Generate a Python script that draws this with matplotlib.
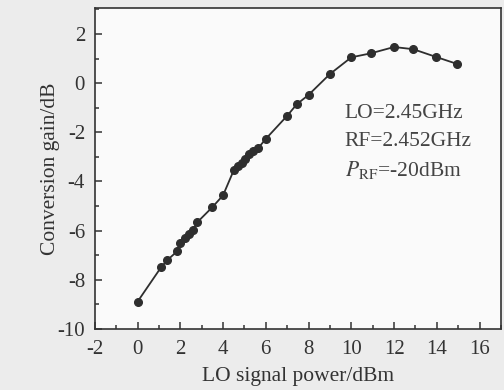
import numpy as np
import matplotlib
matplotlib.use('Agg')
import matplotlib.pyplot as plt
from matplotlib.ticker import MultipleLocator

plt.rcParams['font.family'] = 'Liberation Serif'
plt.rcParams['mathtext.fontset'] = 'stix'
plt.rcParams['axes.unicode_minus'] = False

# LO power (dBm) and conversion gain (dB)
lo_power = [0.0, 1.1, 1.4, 1.85, 2.0, 2.2, 2.4, 2.6, 2.8, 3.5, 4.0,
            4.5, 4.7, 4.9, 5.05, 5.2, 5.4, 5.65, 6.0, 7.0, 7.45, 8.0,
            9.0, 10.0, 10.9, 12.0, 12.9, 13.95, 14.95]
gain = [-8.9, -7.5, -7.2, -6.85, -6.5, -6.3, -6.13, -5.97, -5.66, -5.05, -4.57,
        -3.55, -3.38, -3.24, -3.07, -2.9, -2.76, -2.64, -2.27, -1.33, -0.86, -0.48,
        0.37, 1.05, 1.21, 1.47, 1.38, 1.07, 0.78]

xticks = [-2, 0, 2, 4, 6, 8, 10, 12, 14, 16]
yticks = [-10, -8, -6, -4, -2, 0, 2]

fig = plt.figure(figsize=(5.04, 3.9), dpi=100, facecolor='#ececec')
ax = fig.add_axes([0.188, 0.157, 0.806, 0.822])
ax.set_facecolor('#fafafa')

ax.plot(lo_power, gain, '-o', color='#2e2e2e', lw=1.3, ms=5.5)

ax.set_xlim(-2, 17)
ax.set_ylim(-10, 3.05)
ax.set_xticks(xticks)
ax.set_yticks(yticks)
ax.xaxis.set_minor_locator(MultipleLocator(1))
ax.yaxis.set_minor_locator(MultipleLocator(1))
ax.tick_params(which='both', direction='in', top=False, right=False,
               labelsize=15, colors='#333333', width=1.1)
ax.tick_params(axis='x', which='major', length=5, pad=8)
ax.tick_params(axis='y', which='major', length=5, pad=7)
ax.tick_params(which='minor', length=3)
for s in ax.spines.values():
    s.set_color('#333333')
    s.set_linewidth(1.2)

ax.set_xlabel('LO signal power/dBm', fontsize=15.5, color='#333333', labelpad=6)
ax.set_ylabel('Conversion gain/dB', fontsize=15.5, color='#333333', labelpad=-2)

txt_kw = dict(fontsize=15.5, color='#444444', va='center', ha='left')
ax.text(9.7, -1.22, 'LO=2.45GHz', **txt_kw)
ax.text(9.7, -2.37, 'RF=2.452GHz', **txt_kw)
ax.text(9.7, -3.55, r'$P_{\mathrm{RF}}$=-20dBm', **txt_kw)

fig.savefig('out.png', dpi=100, facecolor=fig.get_facecolor())
